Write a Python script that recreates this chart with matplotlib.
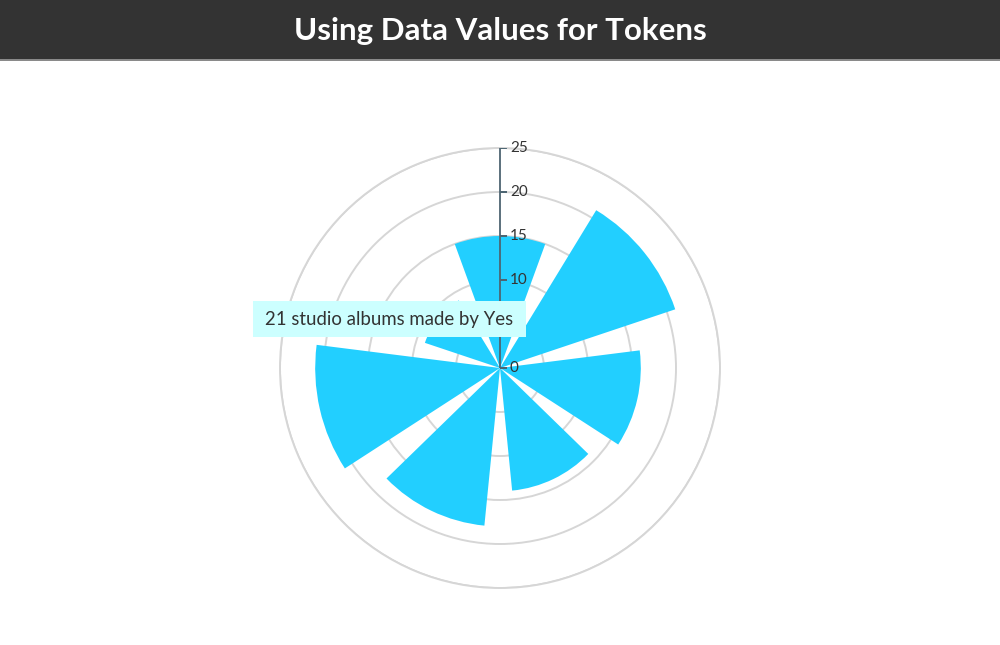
import numpy as np
import matplotlib
matplotlib.use("Agg")
import matplotlib.pyplot as plt
from matplotlib.patches import Rectangle
from matplotlib.transforms import offset_copy

# ---- data ----
values = [15, 21, 16, 14, 18, 21, 9]
radial_ticks = [0, 5, 10, 15, 20, 25]
# the "5" label is hidden behind the tooltip in the reference
radial_labels = ["0", "", "10", "15", "20", "25"]
title = "Using Data Values for Tokens"
tooltip = "21 studio albums made by Yes"

W, H = 1000, 645
fig = plt.figure(figsize=(W / 100, H / 100), dpi=100)
fig.patch.set_facecolor("white")

# header bar
fig.patches.append(Rectangle((0, 1 - 59 / H), 1, 59 / H, transform=fig.transFigure,
                             facecolor="#333333", edgecolor="none", zorder=0))
fig.patches.append(Rectangle((0, 1 - 61 / H), 1, 2 / H, transform=fig.transFigure,
                             facecolor="#8a8a8a", edgecolor="none", zorder=0))
fig.text(0.5, 1 - 31 / H, title, ha="center", va="center", color="white",
         fontsize=22.5, fontweight="bold", family=["Lato", "DejaVu Sans"])

# polar axes: centre (500, 368) px, radius 220 px
cx, cy, R = 500, 368, 220
ax = fig.add_axes([(cx - R) / W, (H - cy - R) / H, 2 * R / W, 2 * R / H],
                  projection="polar")
ax.set_theta_zero_location("N")
ax.set_theta_direction(-1)
ax.set_ylim(0, radial_ticks[-1])
ax.set_facecolor("none")

n = len(values)
theta = np.arange(n) * 2 * np.pi / n
width = 0.78 * 2 * np.pi / n
ax.bar(theta, values, width=width, bottom=0, color="#22cfff", edgecolor="none",
       zorder=3, align="center")

# grid circles
ax.set_rgrids(radial_ticks[1:], labels=[])
ax.set_thetagrids([], labels=[])
ax.yaxis.grid(True, color="#d6d6d6", linewidth=1.4)
ax.xaxis.grid(False)
ax.spines["polar"].set_color("#d6d6d6")
ax.spines["polar"].set_linewidth(1.4)
ax.tick_params(axis="y", length=0)

# radial axis line with ticks and labels
axis_color = "#4d6572"
ax.plot([0, 0], [0, radial_ticks[-1]], color=axis_color, linewidth=1.3, zorder=5,
        solid_capstyle="butt")
for r, lab in zip(radial_ticks, radial_labels):
    ax.plot([0], [r], marker=1, markersize=5, color=axis_color, markeredgewidth=1.3,
            zorder=5)
    if lab:
        ax.text(0, r, lab, transform=offset_copy(ax.transData, fig=fig, x=10, y=0,
                                                    units="dots"),
                ha="left", va="center", fontsize=11, color="#333333", zorder=6,
                family=["Lato", "DejaVu Sans"])

# tooltip box
bx0, by0, bx1, by1 = 253, 301, 526, 337
fig.patches.append(Rectangle((bx0 / W, 1 - by1 / H), (bx1 - bx0) / W, (by1 - by0) / H,
                             transform=fig.transFigure, facecolor="#ccffff",
                             edgecolor="none", zorder=10))
fig.text((bx0 + 12) / W, 1 - (by0 + by1) / 2 / H, tooltip, ha="left", va="center",
         fontsize=13.4, color="#333333", family=["Lato", "DejaVu Sans"], zorder=11)

fig.savefig("out.png", dpi=100)
